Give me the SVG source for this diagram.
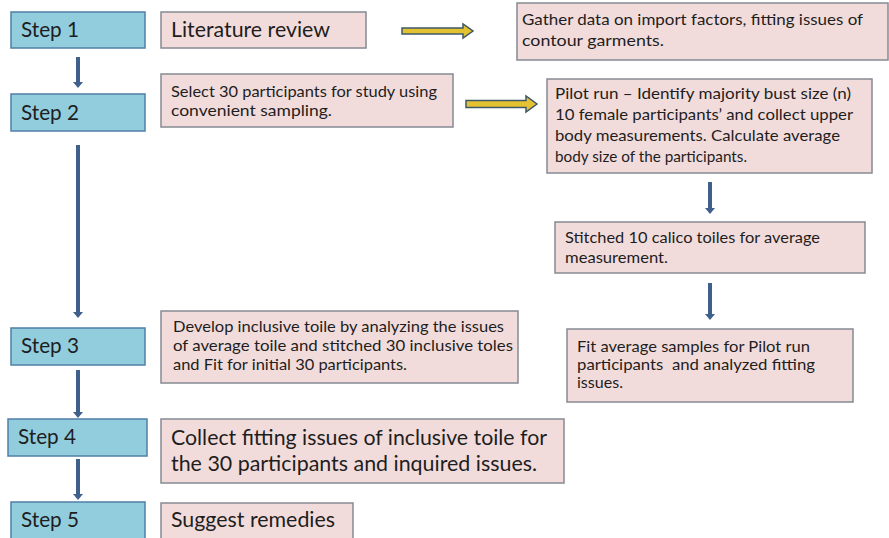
<svg xmlns="http://www.w3.org/2000/svg" width="889" height="538" viewBox="0 0 889 538">
<style>
.step{fill:#92CDDE;stroke:#4F7FA6;stroke-width:1.5}
.box{fill:#F2DCDB;stroke:#858B93;stroke-width:1.5}
text{font-family:Lato,"Open Sans","Liberation Sans",sans-serif;fill:#1E1E1E}
.big{font-size:21px}
.mid{font-size:16px}
.sm{font-size:15px}
.conn{stroke:#40608C;stroke-width:4;fill:none}
.ya{fill:#E3C231;stroke:#3F5868;stroke-width:1.5;stroke-linejoin:miter}
</style>
<defs>
<marker id="ah" markerUnits="userSpaceOnUse" markerWidth="6" markerHeight="10" viewBox="0 0 6 10" refX="0" refY="5" orient="auto">
<path d="M0,0 L6,5 L0,10 z" fill="#40608C"/>
</marker>
</defs>
<rect width="889" height="538" fill="#FFFFFF"/>

<g id="connectors">
<line class="conn" x1="78" y1="57" x2="78" y2="82" marker-end="url(#ah)"/>
<line class="conn" x1="78" y1="145" x2="78" y2="312" marker-end="url(#ah)"/>
<line class="conn" x1="78" y1="370" x2="78" y2="412" marker-end="url(#ah)"/>
<line class="conn" x1="78" y1="459" x2="78" y2="494" marker-end="url(#ah)"/>
<line class="conn" x1="710" y1="182" x2="710" y2="208" marker-end="url(#ah)"/>
<line class="conn" x1="710" y1="283" x2="710" y2="314" marker-end="url(#ah)"/>
<polygon class="ya" points="402,28 463,28 463,24 473,31 463,38 463,34 402,34"/>
<polygon class="ya" points="466,100.5 526,100.5 526,96 537,104 526,112 526,107.5 466,107.5"/>
</g>

<g id="step1">
<rect class="step" x="11" y="12" width="134" height="36"/>
<text class="big" x="21" y="37" textLength="58" lengthAdjust="spacingAndGlyphs">Step 1</text>
</g>
<g id="step2">
<rect class="step" x="11" y="94" width="134" height="37"/>
<text class="big" x="21" y="120" textLength="58" lengthAdjust="spacingAndGlyphs">Step 2</text>
</g>
<g id="step3">
<rect class="step" x="11" y="328" width="134" height="37"/>
<text class="big" x="21" y="353" textLength="58" lengthAdjust="spacingAndGlyphs">Step 3</text>
</g>
<g id="step4">
<rect class="step" x="8" y="419" width="139" height="37"/>
<text class="big" x="18" y="444" textLength="58" lengthAdjust="spacingAndGlyphs">Step 4</text>
</g>
<g id="step5">
<rect class="step" x="11" y="502" width="134" height="44"/>
<text class="big" x="21" y="527" textLength="58" lengthAdjust="spacingAndGlyphs">Step 5</text>
</g>

<g id="literature">
<rect class="box" x="161" y="12" width="205" height="36"/>
<text class="big" x="171" y="37" textLength="159" lengthAdjust="spacingAndGlyphs">Literature review</text>
</g>
<g id="gather">
<rect class="box" x="517" y="3" width="371" height="57"/>
<text class="mid" x="522" y="25" textLength="341" lengthAdjust="spacingAndGlyphs">Gather data on import factors, fitting issues of</text>
<text class="mid" x="522" y="46" textLength="142" lengthAdjust="spacingAndGlyphs">contour garments.</text>
</g>
<g id="select">
<rect class="box" x="161" y="74" width="292" height="53"/>
<text class="sm" x="171" y="97" textLength="266" lengthAdjust="spacingAndGlyphs">Select 30 participants for study using</text>
<text class="sm" x="171" y="116" textLength="161" lengthAdjust="spacingAndGlyphs">convenient sampling.</text>
</g>
<g id="pilot">
<rect class="box" x="547" y="79" width="325" height="94"/>
<text class="sm" x="555" y="99" textLength="296" lengthAdjust="spacingAndGlyphs">Pilot run – Identify majority bust size (n)</text>
<text class="sm" x="555" y="120" textLength="298" lengthAdjust="spacingAndGlyphs">10 female participants’ and collect upper</text>
<text class="sm" x="555" y="141" textLength="285" lengthAdjust="spacingAndGlyphs">body measurements. Calculate average</text>
<text class="sm" x="555" y="162" textLength="192" lengthAdjust="spacingAndGlyphs">body size of the participants.</text>
</g>
<g id="stitched">
<rect class="box" x="555" y="222" width="310" height="51"/>
<text class="mid" x="565" y="243" textLength="255" lengthAdjust="spacingAndGlyphs">Stitched 10 calico toiles for average</text>
<text class="mid" x="565" y="263" textLength="103" lengthAdjust="spacingAndGlyphs">measurement.</text>
</g>
<g id="fit">
<rect class="box" x="567" y="329" width="286" height="73"/>
<text class="sm" x="577" y="352" textLength="233" lengthAdjust="spacingAndGlyphs">Fit average samples for Pilot run</text>
<text class="sm" x="577" y="370" textLength="238" lengthAdjust="spacingAndGlyphs" style="white-space:pre">participants  and analyzed fitting</text>
<text class="sm" x="577" y="388" textLength="46" lengthAdjust="spacingAndGlyphs">issues.</text>
</g>
<g id="develop">
<rect class="box" x="161" y="311" width="357" height="72"/>
<text class="sm" x="173" y="332" textLength="331" lengthAdjust="spacingAndGlyphs">Develop inclusive toile by analyzing the issues</text>
<text class="sm" x="173" y="351" textLength="340" lengthAdjust="spacingAndGlyphs">of average toile and stitched 30 inclusive toles</text>
<text class="sm" x="173" y="370" textLength="234" lengthAdjust="spacingAndGlyphs">and Fit for initial 30 participants.</text>
</g>
<g id="collect">
<rect class="box" x="161" y="419" width="403" height="64"/>
<text class="big" x="171" y="445" textLength="376" lengthAdjust="spacingAndGlyphs">Collect fitting issues of inclusive toile for</text>
<text class="big" x="171" y="471" textLength="366" lengthAdjust="spacingAndGlyphs">the 30 participants and inquired issues.</text>
</g>
<g id="suggest">
<rect class="box" x="161" y="503" width="192" height="44"/>
<text class="big" x="171" y="527" textLength="164" lengthAdjust="spacingAndGlyphs">Suggest remedies</text>
</g>
</svg>
